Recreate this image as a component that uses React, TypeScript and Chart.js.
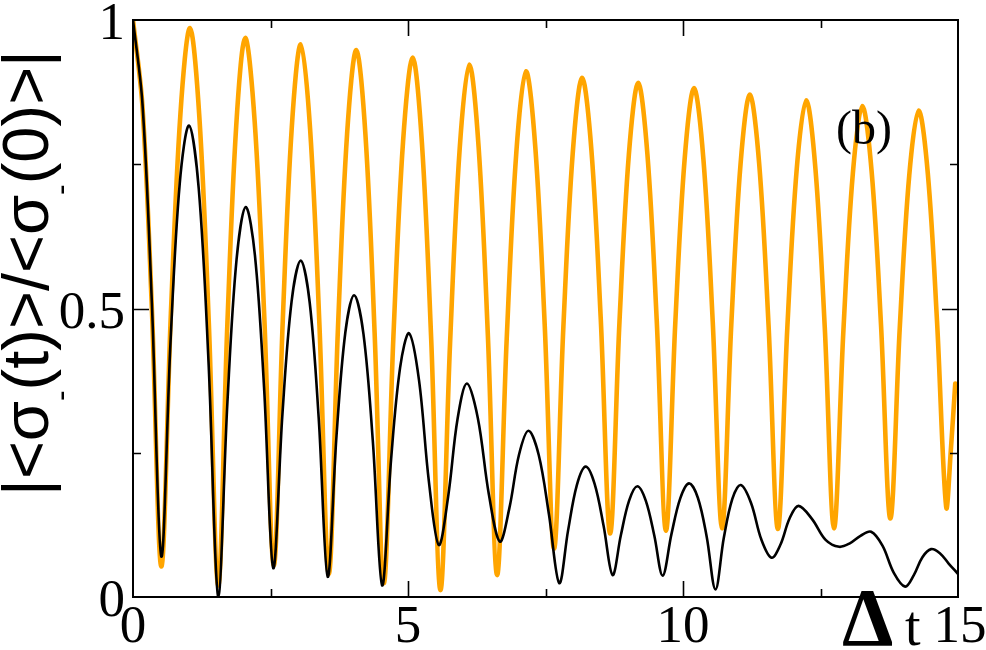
import React, { useEffect, useRef } from "react";
import { Chart, registerables } from "chart.js";

Chart.register(...registerables);

// ---- data ----
const orangeT = [
  0, 0.172, 0.343, 0.515, 0.689, 0.862, 1.036, 1.207, 1.379, 1.55, 1.713, 1.877,
  2.04, 2.213, 2.387, 2.56, 2.723, 2.887, 3.05, 3.22, 3.39, 3.56, 3.727, 3.893,
  4.06, 4.227, 4.393, 4.56, 4.735, 4.91, 5.085, 5.253, 5.422, 5.59, 5.765, 5.94,
  6.115, 6.283, 6.452, 6.62, 6.795, 6.97, 7.145, 7.315, 7.485, 7.655, 7.825, 7.995,
  8.165, 8.335, 8.505, 8.675, 8.845, 9.015, 9.185, 9.353, 9.522, 9.69, 9.86, 10.03,
  10.2, 10.37, 10.54, 10.71, 10.878, 11.047, 11.215, 11.385, 11.555, 11.725, 11.897, 12.068,
  12.24, 12.408, 12.577, 12.745, 12.917, 13.088, 13.26, 13.43, 13.6, 13.77, 13.942, 14.113,
  14.285, 14.452, 14.618, 14.785, 14.87, 14.95,
];
const orangeV = [
  1.0, 0.85, 0.5, 0.053, 0.492, 0.837, 0.986, 0.831, 0.474, 0.02, 0.466, 0.817,
  0.969, 0.823, 0.485, 0.055, 0.479, 0.814, 0.958, 0.811, 0.471, 0.04, 0.467, 0.803,
  0.948, 0.8, 0.458, 0.024, 0.452, 0.789, 0.935, 0.787, 0.446, 0.012, 0.44, 0.777,
  0.923, 0.781, 0.454, 0.038, 0.448, 0.771, 0.911, 0.779, 0.473, 0.084, 0.468, 0.769,
  0.9, 0.774, 0.481, 0.11, 0.477, 0.766, 0.891, 0.767, 0.48, 0.115, 0.475, 0.759,
  0.882, 0.76, 0.478, 0.119, 0.472, 0.751, 0.871, 0.751, 0.472, 0.118, 0.467, 0.742,
  0.861, 0.742, 0.468, 0.119, 0.463, 0.734, 0.851, 0.737, 0.472, 0.136, 0.468, 0.73,
  0.843, 0.733, 0.479, 0.156, 0.255, 0.37,
];
const blackT = [
  0, 0.172, 0.343, 0.515, 0.683, 0.85, 1.018, 1.195, 1.373, 1.55, 1.717, 1.883,
  2.05, 2.217, 2.383, 2.55, 2.717, 2.883, 3.05, 3.213, 3.377, 3.54, 3.7, 3.86,
  4.02, 4.19, 4.36, 4.53, 4.693, 4.857, 5.02, 5.2, 5.38, 5.56, 5.73, 5.9,
  6.07, 6.27, 6.47, 6.67, 6.843, 7.017, 7.19, 7.377, 7.563, 7.75, 7.91, 8.07,
  8.23, 8.393, 8.557, 8.72, 8.87, 9.02, 9.17, 9.323, 9.477, 9.63, 9.79, 9.95,
  10.11, 10.27, 10.43, 10.59, 10.743, 10.897, 11.05, 11.237, 11.423, 11.61, 11.773, 11.937,
  12.1, 12.347, 12.593, 12.84, 13.033, 13.227, 13.42, 13.627, 13.833, 14.04, 14.197, 14.353,
  14.51, 14.67, 14.83, 14.99,
];
const blackV = [
  1.0, 0.855, 0.51, 0.07, 0.444, 0.717, 0.817, 0.708, 0.408, 0.0, 0.338, 0.585,
  0.676, 0.592, 0.363, 0.05, 0.317, 0.512, 0.583, 0.51, 0.309, 0.035, 0.279, 0.458,
  0.523, 0.456, 0.271, 0.02, 0.239, 0.398, 0.457, 0.376, 0.2, 0.09, 0.174, 0.308,
  0.37, 0.31, 0.178, 0.096, 0.154, 0.246, 0.288, 0.246, 0.143, 0.024, 0.115, 0.194,
  0.226, 0.196, 0.123, 0.038, 0.107, 0.167, 0.192, 0.167, 0.107, 0.037, 0.109, 0.171,
  0.197, 0.172, 0.105, 0.013, 0.103, 0.17, 0.194, 0.163, 0.1, 0.068, 0.091, 0.136,
  0.158, 0.135, 0.099, 0.087, 0.093, 0.106, 0.113, 0.089, 0.042, 0.018, 0.038, 0.069,
  0.083, 0.076, 0.058, 0.041,
];

const xMajorTicks = [0, 5, 10, 15];
const xTickLabels = ["0", "5", "10", "15"];
const xMinorTicks = [2.5, 7.5, 12.5];
const yMajorTicks = [0, 0.5, 1];
const yTickLabels = ["0", "0.5", "1"];
const yMinorTicks = [0.25, 0.75];

const panelLabel = "(b)";
const xTitleSymbol = "Δ";
const xTitleLetter = "t";
// y title pieces: [text, isSubscript]
const yTitlePieces: [string, boolean][] = [
  ["|", false],
  ["<", false],
  ["σ", false],
  ["-", true],
  ["(t)", false],
  [">", false],
  ["/", false],
  ["<", false],
  ["σ", false],
  ["-", true],
  ["(0)", false],
  [">", false],
  ["|", false],
];

const decorPlugin = {
  id: "decor",
  afterDatasetsDraw(chart: any) {
    const ctx = chart.ctx as CanvasRenderingContext2D;
    const xs = chart.scales.x;
    const ys = chart.scales.y;
    const { left, right, top, bottom } = chart.chartArea;
    ctx.save();
    // frame
    ctx.strokeStyle = "#000";
    ctx.lineWidth = 2;
    ctx.strokeRect(left, top, right - left, bottom - top);

    const major = 16;
    const minor = 8;
    ctx.lineWidth = 1.6;
    ctx.beginPath();
    const xt = (v: number, len: number) => {
      const px = Math.round(xs.getPixelForValue(v)) + 0.5;
      ctx.moveTo(px, bottom);
      ctx.lineTo(px, bottom - len);
      ctx.moveTo(px, top);
      ctx.lineTo(px, top + len);
    };
    const yt = (v: number, len: number) => {
      const py = Math.round(ys.getPixelForValue(v)) + 0.5;
      ctx.moveTo(left, py);
      ctx.lineTo(left + len, py);
      ctx.moveTo(right, py);
      ctx.lineTo(right - len, py);
    };
    xMajorTicks.forEach((v) => {
      if (v > xs.min && v < xs.max) xt(v, major);
    });
    xMinorTicks.forEach((v) => xt(v, minor));
    yMajorTicks.forEach((v) => {
      if (v > ys.min && v < ys.max) yt(v, major);
    });
    yMinorTicks.forEach((v) => yt(v, minor));
    ctx.stroke();

    // tick labels
    ctx.fillStyle = "#000";
    ctx.font = '53px "Liberation Serif", "Times New Roman", serif';
    ctx.textBaseline = "alphabetic";
    ctx.textAlign = "center";
    xMajorTicks.forEach((v, i) => {
      const px = xs.getPixelForValue(v);
      ctx.fillText(xTickLabels[i], px + (i === xMajorTicks.length - 1 ? 2 : 0), 642);
    });
    ctx.textAlign = "right";
    yMajorTicks.forEach((v, i) => {
      const py = ys.getPixelForValue(v);
      ctx.fillText(yTickLabels[i], left - 8, py + 19);
    });

    // panel label
    ctx.textAlign = "left";
    ctx.font = '48px "Liberation Serif", "Times New Roman", serif';
    ctx.fillText(panelLabel, 836, 144);

    // x title
    ctx.font = 'bold 82px "Liberation Serif", "Times New Roman", serif';
    ctx.fillText(xTitleSymbol, 842, 645);
    ctx.font = '56px "Liberation Serif", "Times New Roman", serif';
    ctx.fillText(xTitleLetter, 905, 645);

    // y title (rotated)
    const mainFont = '65px "Liberation Sans", Arial, sans-serif';
    const subFont = '32px "Liberation Sans", Arial, sans-serif';
    let total = 0;
    const widths = yTitlePieces.map(([s, sub]) => {
      ctx.font = sub ? subFont : mainFont;
      const w = ctx.measureText(s).width;
      total += w;
      return w;
    });
    ctx.save();
    ctx.translate(48, 273);
    ctx.rotate(-Math.PI / 2);
    let x = -total / 2;
    yTitlePieces.forEach(([s, sub], i) => {
      ctx.font = sub ? subFont : mainFont;
      ctx.fillText(s, x, sub ? 23 : 0);
      x += widths[i];
    });
    ctx.restore();

    ctx.restore();
  },
};

export default function App() {
  const canvasRef = useRef<HTMLCanvasElement | null>(null);

  useEffect(() => {
    const canvas = canvasRef.current;
    if (!canvas) return;
    const chart = new Chart(canvas, {
      type: "line",
      data: {
        datasets: [
          {
            label: "black",
            data: blackT.map((t, i) => ({ x: t, y: blackV[i] })),
            borderColor: "#000000",
            borderWidth: 2.6,
            pointRadius: 0,
            tension: 0.35,
            fill: false,
            order: 0,
          },
          {
            label: "orange",
            data: orangeT.map((t, i) => ({ x: t, y: orangeV[i] })),
            borderColor: "#FFA500",
            borderWidth: 4.6,
            pointRadius: 0,
            tension: 0.35,
            fill: false,
            order: 1,
          },
        ],
      },
      options: {
        animation: false,
        responsive: false,
        devicePixelRatio: 1,
        layout: { padding: { left: 133, right: 28, top: 20, bottom: 53 } },
        scales: {
          x: { type: "linear", min: 0, max: 15, display: false },
          y: { type: "linear", min: 0, max: 1, display: false },
        },
        plugins: {
          legend: { display: false },
          tooltip: { enabled: false },
        },
        elements: { line: { borderCapStyle: "round", borderJoinStyle: "round" } },
      },
      plugins: [decorPlugin],
    });
    return () => chart.destroy();
  }, []);

  return (
    <div style={{ position: "absolute", left: 0, top: 0, width: 986, height: 650, background: "#fff" }}>
      <canvas ref={canvasRef} width={986} height={650} style={{ width: 986, height: 650, display: "block" }} />
    </div>
  );
}
